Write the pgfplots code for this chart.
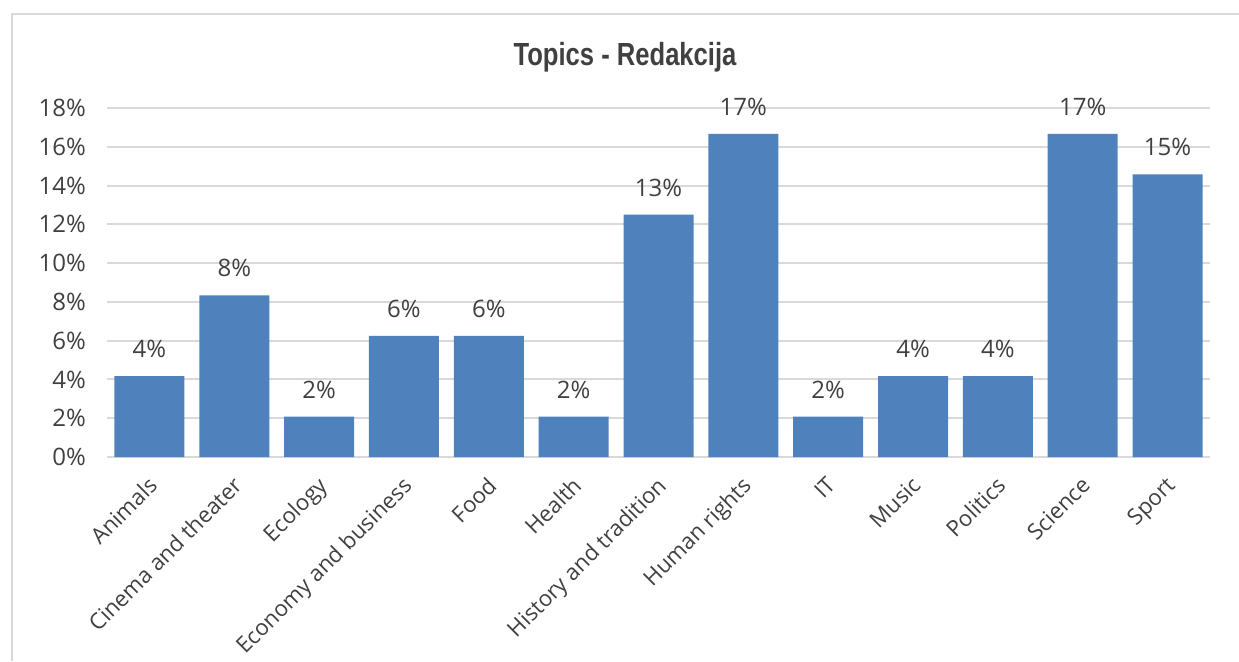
\documentclass[border=0pt]{standalone}
\usepackage{fontspec}
\setmainfont{Open Sans}
\newfontfamily\titlefont{Liberation Sans}
\usepackage{pgfplots}
\pgfplotsset{compat=1.18}
\definecolor{barblue}{HTML}{4F81BD}
\definecolor{gridgray}{HTML}{D9D9D9}
\definecolor{txt}{HTML}{404040}

\begin{document}
\begin{tikzpicture}
\useasboundingbox (0,0) rectangle (619.5pt,330.5pt);
\draw[gridgray, line width=1pt] (6pt,0) -- (6pt,323.5pt) -- (619.5pt,323.5pt);
\node[text=txt, font=\titlefont\bfseries\fontsize{16}{18}\selectfont] at (312.5pt,302pt) {\scalebox{0.8}[1]{Topics - Redakcija}};
\begin{axis}[
    at={(53.5pt,102pt)}, anchor=south west,
    scale only axis,
    width=551.5pt, height=174.5pt,
    ybar, bar width=0.825,
    xmin=-0.5, xmax=12.5,
    ymin=0, ymax=18,
    xtick=data,
    xticklabels={Animals, Cinema and theater, Ecology, Economy and business, Food, Health, History and tradition, Human rights, IT, Music, Politics, Science, Sport},
    ytick={0,2,...,18},
    yticklabels={0\%,2\%,4\%,6\%,8\%,10\%,12\%,14\%,16\%,18\%},
    axis line style={draw=none},
    major tick length=0pt,
    ymajorgrids=true,
    grid style={gridgray, line width=1pt},
    tick label style={text=txt, font=\fontsize{12}{14}\selectfont},
    y tick label style={xshift=-7pt},
    x tick label style={rotate=45, anchor=north east, font=\fontsize{11.1}{13}\selectfont, xshift=-4pt, yshift=-2pt},
    point meta=explicit symbolic,
    nodes near coords,
    every node near coord/.append style={text=txt, font=\fontsize{12}{14}\selectfont, inner sep=0pt, anchor=south, yshift=9pt},
]
\addplot[fill=barblue, draw=none] coordinates {
    (0,4.17)[4\%] (1,8.33)[8\%] (2,2.08)[2\%] (3,6.25)[6\%] (4,6.25)[6\%]
    (5,2.08)[2\%] (6,12.5)[13\%] (7,16.67)[17\%] (8,2.08)[2\%] (9,4.17)[4\%]
    (10,4.17)[4\%] (11,16.67)[17\%] (12,14.58)[15\%]
};
\end{axis}
\end{tikzpicture}
\end{document}
